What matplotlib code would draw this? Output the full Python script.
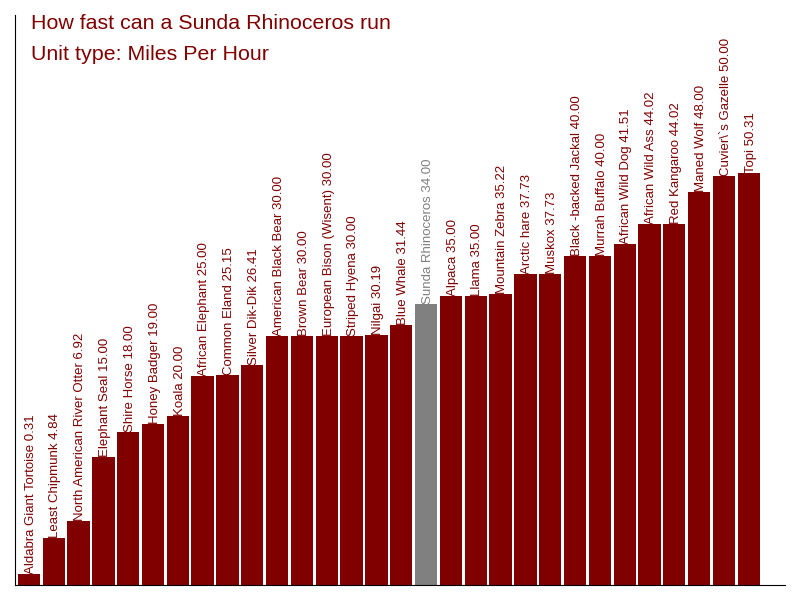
import numpy as np
import matplotlib
matplotlib.use("Agg")
import matplotlib.pyplot as plt

plt.rcParams['font.family'] = ['Liberation Sans', 'DejaVu Sans']

animals = ["Aldabra Giant Tortoise", "Least Chipmunk", "North American River Otter",
           "Elephant Seal", "Shire Horse", "Honey Badger", "Koala", "African Elephant",
           "Common Eland", "Silver Dik-Dik", "American Black Bear", "Brown Bear",
           "European Bison (Wisent)", "Striped Hyena", "Nilgai", "Blue Whale",
           "Sunda Rhinoceros", "Alpaca", "Llama", "Mountain Zebra", "Arctic hare",
           "Muskox", "Black -backed Jackal", "Murrah Buffalo", "African Wild Dog",
           "African Wild Ass", "Red Kangaroo", "Maned Wolf", "Cuvier\\`s Gazelle", "Topi"]
speeds = [0.31, 4.84, 6.92, 15.00, 18.00, 19.00, 20.00, 25.00, 25.15, 26.41,
          30.00, 30.00, 30.00, 30.00, 30.19, 31.44, 34.00, 35.00, 35.00, 35.22,
          37.73, 37.73, 40.00, 40.00, 41.51, 44.02, 44.02, 48.00, 50.00, 50.31]
highlight = "Sunda Rhinoceros"

red = "#800000"
grey = "#808080"
base = -1.0
width = 0.9

fig = plt.figure(figsize=(8, 6), dpi=100)
ax = fig.add_axes([0.019, 0.025, 0.962, 0.95])

x = np.arange(len(speeds))
vals = np.array(speeds)
colors = [grey if a == highlight else red for a in animals]
ax.bar(x, vals - base, bottom=base, width=width, color=colors, align='center')

for i, (a, v, c) in enumerate(zip(animals, speeds, colors)):
    ax.text(i - width / 2 + 0.28, v, f"{a} {v:.2f}", rotation=90,
            ha='left', va='bottom', fontsize=9.5, color=c)

ax.set_xlim(-0.55, 30.45)
ax.set_ylim(base, 70)
ax.set_xticks([])
ax.set_yticks([])
for s in ['top', 'right']:
    ax.spines[s].set_visible(False)

fig.text(31 / 800, 1 - 29 / 600, "How fast can a Sunda Rhinoceros run",
         fontsize=15.4, color=red, ha='left', va='baseline')
fig.text(31 / 800, 1 - 60 / 600, "Unit type: Miles Per Hour",
         fontsize=15.4, color=red, ha='left', va='baseline')

fig.savefig("out.png", dpi=100)
